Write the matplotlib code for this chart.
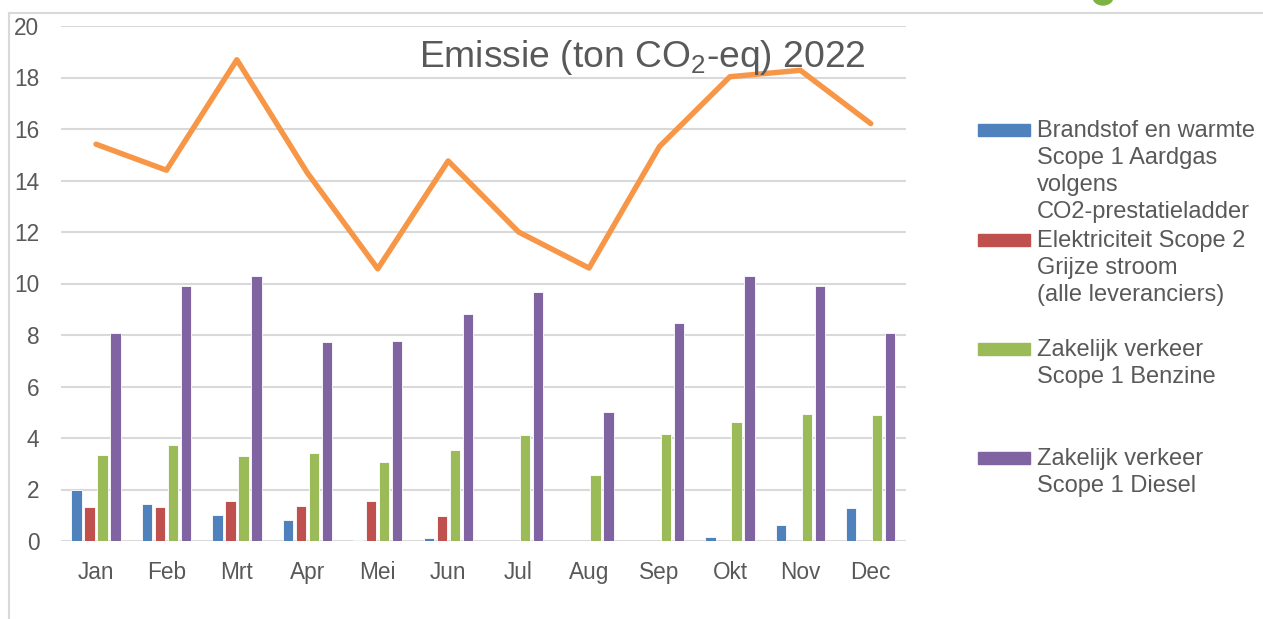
import matplotlib
matplotlib.use("Agg")
import matplotlib.pyplot as plt
import numpy as np
from matplotlib.patches import Rectangle, Ellipse
from matplotlib.lines import Line2D

plt.rcParams['font.family'] = ['Liberation Sans', 'DejaVu Sans']
plt.rcParams['mathtext.fontset'] = 'custom'
plt.rcParams['mathtext.rm'] = 'Liberation Sans'
plt.rcParams['mathtext.it'] = 'Liberation Sans'
plt.rcParams['mathtext.bf'] = 'Liberation Sans:bold'

months = ["Jan", "Feb", "Mrt", "Apr", "Mei", "Jun", "Jul", "Aug", "Sep", "Okt", "Nov", "Dec"]
aardgas = [1.98, 1.45, 1.01, 0.80, 0.03, 0.12, 0, 0, 0, 0.16, 0.63, 1.28]
elektriciteit = [1.31, 1.31, 1.54, 1.35, 1.54, 0.97, 0, 0, 0, 0, 0, 0]
benzine = [3.33, 3.74, 3.30, 3.41, 3.06, 3.55, 4.11, 2.57, 4.15, 4.63, 4.94, 4.89]
diesel = [8.08, 9.92, 10.31, 7.74, 7.77, 8.83, 9.68, 5.02, 8.48, 10.30, 9.91, 8.09]
totaal = [15.41, 14.40, 18.69, 14.30, 10.57, 14.76, 12.00, 10.60, 15.32, 18.03, 18.28, 16.21]

labels = [
    "Brandstof en warmte\nScope 1 Aardgas\nvolgens\nCO2-prestatieladder",
    "Elektriciteit Scope 2\nGrijze stroom\n(alle leveranciers)",
    "Zakelijk verkeer\nScope 1 Benzine",
    "Zakelijk verkeer\nScope 1 Diesel",
]
title = r"Emissie (ton CO$_2$-eq) 2022"
yticks = [0, 2, 4, 6, 8, 10, 12, 14, 16, 18, 20]

colors = ["#4f81bd", "#c0504d", "#9bbb59", "#8064a2"]
line_color = "#f79646"
text_color = "#595959"
grid_color = "#d9d9d9"

W, H = 1263, 619
fig = plt.figure(figsize=(W / 100, H / 100), dpi=100)
ax = fig.add_axes([60.8 / W, (H - 541) / H, 845.2 / W, 515 / H])

x = np.arange(len(months))
step = 0.1845
bw = 0.146
series = [aardgas, elektriciteit, benzine, diesel]
for i, (vals, c) in enumerate(zip(series, colors)):
    ax.bar(x + (i - 1.5) * step, vals, width=bw, color=c, edgecolor="white",
           linewidth=0.6, zorder=3)

ax.plot(x, totaal, color=line_color, linewidth=3.9, solid_capstyle="round",
        solid_joinstyle="round", zorder=4)

ax.set_xlim(-0.5, len(months) - 0.5)
ax.set_ylim(0, 20)
ax.set_yticks(yticks)
ax.set_xticks(x)
ax.set_xticklabels(months)
ax.yaxis.grid(True, color=grid_color, linewidth=1.5, zorder=0)
ax.set_axisbelow(True)
for s in ax.spines.values():
    s.set_visible(False)
ax.tick_params(axis="both", length=0, labelsize=16.3, labelcolor=text_color)
ax.tick_params(axis="y", pad=15.5)
ax.tick_params(axis="x", pad=14.5)

# title
fig.text(642 / W, 1 - 66.7 / H, title, ha="center", va="baseline",
         fontsize=26.8, color=text_color)

# legend (manual, Excel style)
ys = [130, 240, 349, 458]
for lab, c, yc in zip(labels, colors, ys):
    fig.patches.append(Rectangle((978 / W, 1 - (yc + 6) / H), 52 / W, 12 / H,
                                 transform=fig.transFigure, color=c))
    fig.text(1037 / W, 1 - (yc - 10) / H, lab, ha="left", va="top",
             fontsize=17, color=text_color, linespacing=1.29)

# outer chart frame
fig.add_artist(Line2D([8.5 / W, 8.5 / W], [0, 1 - 12.5 / H], transform=fig.transFigure,
                      color=grid_color, linewidth=1.5))
fig.add_artist(Line2D([8.5 / W, 1], [1 - 12.5 / H, 1 - 12.5 / H], transform=fig.transFigure,
                      color=grid_color, linewidth=1.5))
# partial logo at top right
fig.patches.append(Ellipse((1103 / W, 1 + 3 / H), 20 / W, 16 / H,
                           transform=fig.transFigure, color="#7cb342"))

fig.savefig("out.png", dpi=100)
